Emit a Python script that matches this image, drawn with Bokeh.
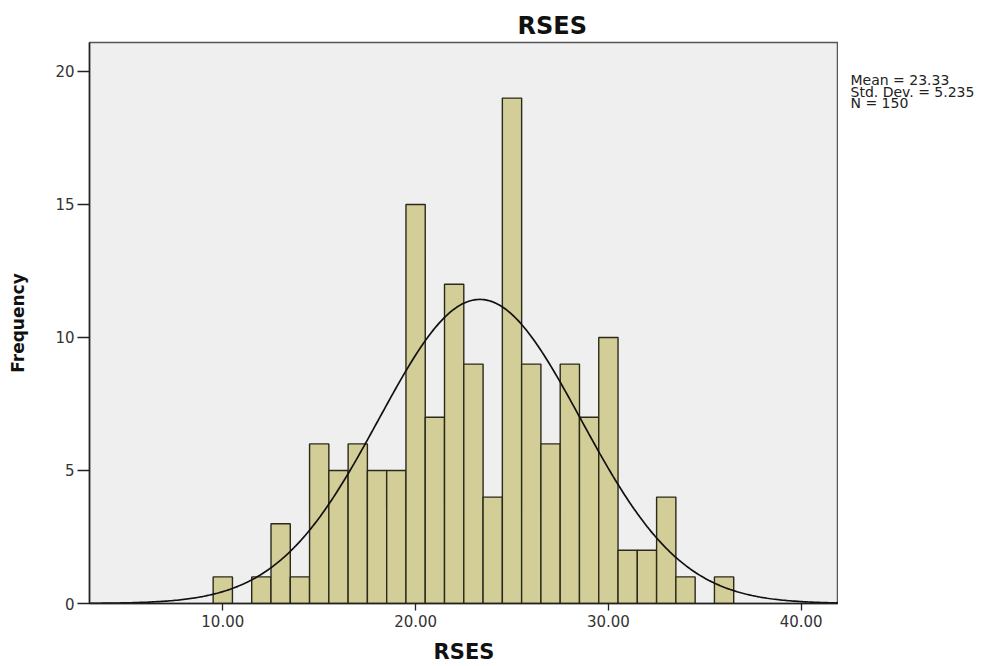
import numpy as np
from bokeh.plotting import figure
from bokeh.layouts import row
from bokeh.models import Range1d, FixedTicker, PrintfTickFormatter, ColumnDataSource
from bokeh.core.properties import value
from bokeh.embed import file_html
from bokeh.resources import INLINE

# ---- data ----
bin_centers = [10, 12, 13, 14, 15, 16, 17, 18, 19, 20, 21, 22, 23, 24, 25,
               26, 27, 28, 29, 30, 31, 32, 33, 34, 36]
counts = [1, 1, 3, 1, 6, 5, 6, 5, 5, 15, 7, 12, 9, 4, 19,
          9, 6, 9, 7, 10, 2, 2, 4, 1, 1]
bin_width = 1.0
mean = 23.33
std_dev = 5.235
n_obs = 150
x_ticks = [10, 20, 30, 40]
y_ticks = [0, 5, 10, 15, 20]
stats_lines = ["Mean = 23.33", "Std. Dev. = 5.235", "N = 150"]
title_text = "RSES"
x_title = "RSES"
y_title = "Frequency"

x_start, x_end = 3.086, 41.935
y_start, y_end = 0.0, 21.09

font = "DejaVu Sans"

p = figure(width=838, height=666, output_backend="svg", toolbar_location=None,
           x_range=Range1d(x_start, x_end), y_range=Range1d(y_start, y_end),
           min_border_left=89, min_border_right=0, min_border_top=42,
           min_border_bottom=63)
p.background_fill_color = "#EFEFEF"
p.border_fill_color = "white"
p.outline_line_color = "#555555"
p.outline_line_width = 1.5
p.grid.visible = False

p.title.text = title_text
p.title.align = "left"
p.title.offset = 428
p.title.standoff = 6
p.title.text_font = font
p.title.text_font_style = "bold"
p.title.text_font_size = "24px"
p.title.text_color = "#111111"

src = ColumnDataSource(dict(x=bin_centers, top=counts))
p.vbar(x="x", top="top", bottom=0, width=bin_width, source=src,
       fill_color="#D3CE97", line_color="#2A2A1A", line_width=1.4)

# fitted normal curve from the stated mean / std. dev. / N
xs = np.linspace(x_start, x_end, 400)
ys = n_obs * bin_width * np.exp(-0.5 * ((xs - mean) / std_dev) ** 2) / (std_dev * np.sqrt(2 * np.pi))
p.line(xs, ys, line_color="#111111", line_width=1.7)

for ax in (p.xaxis[0], p.yaxis[0]):
    ax.axis_line_color = "#222222"
    ax.axis_line_width = 1.5
    ax.major_tick_line_color = "#222222"
    ax.major_tick_line_width = 1.3
    ax.minor_tick_line_color = None
    ax.major_tick_in = 0
    ax.major_label_text_font = font
    ax.major_label_text_font_size = "15px"
    ax.major_label_text_color = "#333333"
    ax.axis_label_text_font = font
    ax.axis_label_text_font_style = "bold"
    ax.axis_label_text_color = "#111111"

p.xaxis.ticker = FixedTicker(ticks=x_ticks)
p.xaxis.formatter = PrintfTickFormatter(format="%.2f")
p.xaxis.major_tick_out = 7
p.xaxis.major_label_standoff = 4
p.xaxis.axis_label = x_title
p.xaxis.axis_label_text_font_size = "21px"
p.xaxis.axis_label_standoff = 10

p.yaxis.ticker = FixedTicker(ticks=y_ticks)
p.yaxis.major_tick_out = 12
p.yaxis.major_label_standoff = 3
p.yaxis.axis_label = y_title
p.yaxis.axis_label_text_font_size = "17px"
p.yaxis.axis_label_standoff = 24

# side panel holding the statistics text (its frame is aligned with the main frame)
p2 = figure(width=167, height=666, output_backend="svg", toolbar_location=None,
            x_range=Range1d(0, 167), y_range=Range1d(603, 42),
            x_axis_location=None, y_axis_location=None, min_border=0)
p2.outline_line_color = None
p2.grid.visible = False
p2.background_fill_color = "white"
p2.border_fill_color = "white"
p2.text(x=[12, 12, 12], y=[79.5, 91, 102], text=stats_lines,
        text_font=value(font), text_font_size="14px", text_color="#222222",
        text_align="left", text_baseline="alphabetic")

layout = row(p, p2, spacing=0)
open("out.html", "w").write(file_html(layout, INLINE))
